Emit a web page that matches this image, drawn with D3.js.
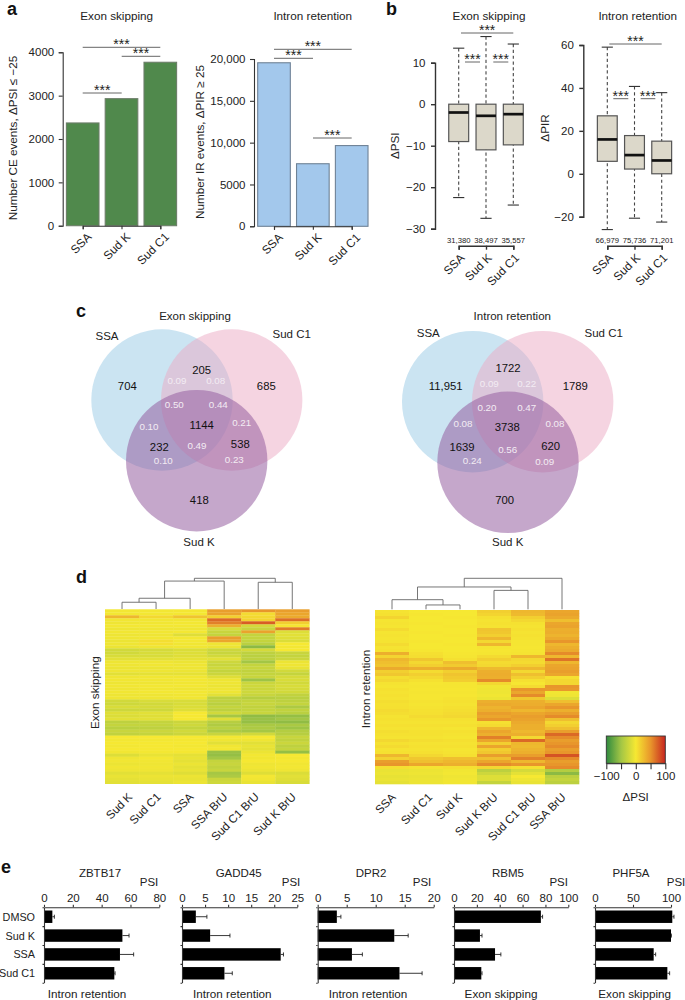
<!DOCTYPE html>
<html>
<head>
<meta charset="utf-8">
<script src="https://cdn.jsdelivr.net/npm/d3@7"></script>
<style>
    body { margin: 0; background: white; }
    svg { display: block; }
    text { font-family: "Liberation Sans", Arial, sans-serif; fill: #222; }
    .axis path, .axis line { stroke: #333; stroke-width: 1.1; fill: none; }
    .axis text { font-family: "Liberation Sans", Arial, sans-serif; fill: #222; }
    .thick path, .thick line { stroke-width: 1.4; }
</style>
</head>
<body>
<div id="canvas"></div>
<script>
"use strict"

// panel a
let barCategories = ["SSA", "Sud K", "Sud C1"]
let exonBarValues = [2370, 2930, 3770]
let intronBarValues = [19550, 7480, 9650]

// panel b
let exonBoxLow = [-22.5, -27.5, -24.3]
let exonBoxQ1 = [-9, -11, -9.8]
let exonBoxMedian = [-2, -2.8, -2.4]
let exonBoxQ3 = [0, 0, 0]
let exonBoxHigh = [13.5, 16.3, 14.5]
let exonBoxCounts = ["31,380", "38,497", "35,557"]

let intronBoxLow = [-26, -20.7, -22.5]
let intronBoxQ1 = [5.8, 2.2, 0]
let intronBoxMedian = [16, 8.7, 6.2]
let intronBoxQ3 = [27, 17.8, 15.2]
let intronBoxHigh = [59, 40.7, 37.8]
let intronBoxCounts = ["66,979", "75,736", "71,201"]

// panel c
let exonVennCounts = ["704", "205", "685", "1144", "232", "538", "418"]
let exonVennRatios = ["0.09", "0.08", "0.50", "0.44", "0.10", "0.21", "0.49", "0.10", "0.23"]
let intronVennCounts = ["11,951", "1722", "1789", "3738", "1639", "620", "700"]
let intronVennRatios = ["0.09", "0.22", "0.20", "0.47", "0.08", "0.08", "0.56", "0.24", "0.09"]

// panel d, one array per column, top row first
let exonHeatLabels = ["Sud K", "Sud C1", "SSA", "SSA BrU", "Sud C1 BrU", "Sud K BrU"]
let exonSudK = [-2, -2, 30, -3, -4, -2, -5, -3, -5, -4, -6, -4, -6, -22, -22, -18, -12, -5, -4, -6, -5, -12, -4, -3, -5, -3, -4, -3, -5, -4, -22, -24, -18, -25, -14, -16, -12, -34, -30, -36, -28, -32, 0, -2, 0, -2, 0, -3, -15, -4, -3, -6, -3, -5, -12, -8, -10, -12]
let exonSudC1 = [-2, -2, 10, -3, -3, -2, -4, -3, -4, -3, 6, 5, -4, -20, -18, -18, -12, -4, -3, -6, -5, -10, -3, -3, -4, -2, -3, -2, -4, -4, -18, -22, -20, -24, -12, -14, -12, -30, -30, -34, -26, -30, 0, -2, 0, 0, 0, -2, -8, -2, -3, -4, -3, -4, -10, -6, -8, -10]
let exonSSA = [-1, -1, 22, -3, -2, -2, -4, -2, -14, -2, -2, -3, -3, -16, -15, -14, -10, -6, -4, -5, -6, -10, -3, -2, -3, -2, -4, -2, -3, -3, -18, -18, -16, -14, 0, 0, 0, -26, -24, -30, -22, -26, 0, -1, 0, -2, 0, -1, -10, -8, -10, -6, -10, -8, -14, -6, -8, -6]
let exonSSABrU = [45, 42, 15, 70, 60, 35, -18, -28, -30, 45, 40, -4, -6, -25, -28, -22, -12, -25, -28, -24, -30, -26, -14, -5, -4, -6, -4, -5, -12, -34, -32, -36, -30, -34, -22, -48, -14, -38, -42, -36, -44, -28, -2, -4, -12, -3, -2, -54, -56, -50, -30, -28, -32, -28, -48, -44, -26, -24]
let exonC1BrU = [50, 8, 10, 12, 75, -20, -28, 42, -30, -30, -30, -36, -60, -20, -34, -36, -34, -50, -30, -28, -32, -30, -28, -52, -26, -24, -26, -24, -28, -38, -30, -28, -32, -30, -28, -58, -54, -56, -46, -44, -48, -22, 0, -4, -12, -8, -10, -6, -2, -3, 0, -4, -3, -6, -14, -2, -3, -8]
let exonKBrU = [45, 40, 38, 68, 15, 2, 62, -15, -12, -14, -16, 0, -2, 0, -28, -30, -26, -6, -4, -8, -22, -30, -20, -18, -22, -18, -20, -22, -32, -36, -34, -30, -44, -32, -36, -56, -50, -58, -46, -52, -40, -38, -28, -32, -26, -34, -30, -56, 0, -2, 0, -3, -2, -4, -16, -12, -14, -18]

let intronHeatLabels = ["SSA", "Sud C1", "Sud K", "Sud K BrU", "Sud C1 BrU", "SSA BrU"]
let intronSSA = [3, 4, 12, 2, 3, 2, 8, 2, 3, 2, 3, 8, 3, 4, 35, 12, 30, 25, 22, 38, 15, 20, 6, 10, 3, 2, 4, 3, 4, 3, 6, 4, 5, 8, 6, 3, 4, 3, 5, 3, 6, 4, 3, 10, 4, 8, 3, 4, 30, 14, 45, 50, 5, -8, -6, -9, -7, -10]
let intronSudC1 = [0, 1, 0, 0, 1, 0, 0, 1, 0, 0, 1, 0, 0, 1, 5, 6, 20, 10, 15, 35, 8, 15, 10, 4, 1, 2, 1, 2, 1, 1, 3, 2, 3, 4, 5, 8, 4, 3, 5, 3, 4, 4, 3, 6, 3, 4, 3, 5, 10, 20, 25, 40, 3, -6, -5, -7, -6, -6]
let intronSudK = [0, 0, 1, 0, 0, 1, 0, 0, 1, 0, 0, 1, 0, 0, 1, 2, 5, 25, 18, 38, 15, 22, 18, 16, 2, 2, 1, 2, 1, 3, 4, 3, 5, 6, 8, 10, 4, 3, 5, 2, 4, 3, 2, 5, 3, 4, 2, 3, 5, 25, 30, 35, 5, -3, -2, -4, -3, -3]
let intronKBrU = [15, 12, 5, 3, 4, 3, 22, 20, 15, 30, 10, 30, 2, 1, 2, 8, 15, 8, 10, 28, 35, 36, 35, 55, 10, -3, -4, -5, -3, -6, 35, 38, 32, 35, 45, 40, 50, 5, 8, 30, 40, 35, 60, 40, 15, 40, 15, 20, 45, 25, 40, 55, 10, -35, -25, -15, -15, -30]
let intronC1BrU = [30, 28, 15, 10, 4, 3, 5, 3, 4, 3, 2, 2, 1, 2, 3, 30, 10, 8, 15, 30, 10, 25, 15, 5, 1, 8, 50, 40, 55, 20, 35, 36, 40, 30, 40, 45, 42, 38, 35, 35, 30, 35, 10, 70, 30, 28, 32, 35, 45, 60, 30, 50, 5, -20, -10, 0, -5, -8]
let intronSSABrU = [40, 42, 38, 25, 40, 42, 35, 36, 32, 38, 50, 30, 35, 38, 55, 30, 65, 30, 40, 42, 45, 40, 5, 10, 10, 50, 48, -3, -4, -15, 25, 40, 50, 35, 45, 55, 25, 10, 15, 25, 45, 70, 55, 45, 50, 55, 45, 50, 80, 55, 45, 50, 55, -40, -60, -35, -30, -35]

// dendrogram merge heights, 100 = top merge
let exonTree = { h: 100, children: [
    { h: 91, children: [
        { h: 35, children: [{ h: 22, children: [{ leaf: 0 }, { leaf: 1 }] }, { leaf: 2 }] },
        { leaf: 3 }
    ] },
    { h: 87, children: [{ leaf: 4 }, { leaf: 5 }] }
] }
let intronTree = { h: 100, children: [
    { h: 72, children: [
        { h: 31, children: [{ leaf: 0 }, { h: 14, children: [{ leaf: 1 }, { leaf: 2 }] }] },
        { h: 61, children: [{ leaf: 3 }, { leaf: 4 }] }
    ] },
    { leaf: 5 }
] }

let colorStops = [-100, -50, 0, 50, 100]
let colorRange = ["#2f8a3f", "#a3c645", "#f6e832", "#e8962b", "#c8261f"]

// panel e
let psiRows = ["DMSO", "Sud K", "SSA", "Sud C1"]
let zbtbValues = [5.8, 54.4, 52.7, 48.8]
let zbtbErrors = [1.4, 4.6, 9.5, 0.5]
let gaddValues = [3, 6.1, 21.4, 9.2]
let gaddErrors = [2.4, 4.3, 0.6, 1.7]
let dprValues = [3.3, 13.2, 5.9, 14.1]
let dprErrors = [0.7, 2.4, 1.8, 3.9]
let rbmValues = [76, 22.7, 35.9, 23.9]
let rbmErrors = [1.5, 1.8, 5.1, 0.6]
let phfValues = [101.7, 100, 77.2, 95.2]
let phfErrors = [2.2, 0.5, 2.6, 3]

let svgWidth = 685
let svgHeight = 1000

let svg = d3.select("#canvas")
    .append("svg")
    .attr("width", svgWidth)
    .attr("height", svgHeight)

function addText(parent, str, x, y, size, anchor) {
    return parent.append("text")
        .attr("x", x)
        .attr("y", y)
        .attr("font-size", size)
        .attr("text-anchor", anchor || "middle")
        .attr("dominant-baseline", "central")
        .text(str)
}

function addVerticalText(str, x, y, size) {
    svg.append("text")
        .attr("transform", `translate(${x},${y}) rotate(-90)`)
        .attr("font-size", size)
        .attr("text-anchor", "middle")
        .attr("dominant-baseline", "central")
        .text(str)
}

function panelLetter(str, x, y) {
    svg.append("text")
        .attr("x", x)
        .attr("y", y)
        .attr("font-size", 18)
        .attr("font-weight", "bold")
        .style("fill", "#111")
        .text(str)
}

function bracket(x1, x2, y) {
    svg.append("line")
        .attr("x1", x1)
        .attr("x2", x2)
        .attr("y1", y)
        .attr("y2", y)
        .attr("stroke", "#555")
        .attr("stroke-width", 0.9)
    svg.append("text")
        .attr("x", (x1 + x2) / 2)
        .attr("y", y + 2)
        .attr("font-size", 14)
        .attr("text-anchor", "middle")
        .text("***")
}

function rotateTicks(axisGroup, size, dx, dy) {
    axisGroup.selectAll("text")
        .attr("x", 0)
        .attr("y", 0)
        .attr("dy", 0)
        .attr("font-size", size)
        .attr("text-anchor", "end")
        .attr("transform", `translate(${dx},${dy}) rotate(-45)`)
}

function drawBars(values, opts) {
    let x = d3.scalePoint()
        .domain(barCategories)
        .range(opts.xRange)
    let y = d3.scaleLinear()
        .domain([0, opts.yMax])
        .range(opts.yRange)
    let barWidth = x.step() * 0.84

    svg.selectAll(null)
        .data(values)
        .join("rect")
        .attr("x", function (value, i) { return x(barCategories[i]) - barWidth / 2 })
        .attr("y", function (value) { return y(value) })
        .attr("width", barWidth)
        .attr("height", function (value) { return y(0) - y(value) })
        .attr("fill", opts.fill)
        .attr("stroke", opts.stroke)
        .attr("stroke-width", 1.1)

    let yAxis = svg.append("g")
        .attr("class", "axis")
        .attr("transform", `translate(${opts.axisX},0)`)
        .call(d3.axisLeft(y).tickValues(opts.ticks).tickSizeOuter(0).tickSize(4).tickFormat(opts.format))
    yAxis.selectAll("text").attr("font-size", 11.5).attr("x", -8.5)

    let xAxis = svg.append("g")
        .attr("class", "axis")
        .attr("transform", `translate(0,${opts.yRange[0]})`)
        .call(d3.axisBottom(x).tickSizeOuter(0).tickSize(3.5))
    rotateTicks(xAxis, 11.8, 9, 12)
}

function drawBoxes(low, q1, median, q3, high, counts, opts) {
    let x = d3.scalePoint()
        .domain(barCategories)
        .range(opts.xRange)
    let y = d3.scaleLinear()
        .domain(opts.yDomain)
        .range(opts.yRange)
    let boxWidth = x.step() * 0.73
    let capWidth = x.step() * 0.41

    let boxes = svg.selectAll(null)
        .data(barCategories)
        .join("g")
        .attr("transform", function (name) { return `translate(${x(name)},0)` })

    boxes.append("line")
        .attr("y1", function (name, i) { return y(high[i]) })
        .attr("y2", function (name, i) { return y(low[i]) })
        .attr("stroke", "#444")
        .attr("stroke-width", 1.1)
        .attr("stroke-dasharray", "3.2,2.6")

    boxes.append("line")
        .attr("x1", -capWidth / 2)
        .attr("x2", capWidth / 2)
        .attr("y1", function (name, i) { return y(high[i]) })
        .attr("y2", function (name, i) { return y(high[i]) })
        .attr("stroke", "#333")
        .attr("stroke-width", 1.1)

    boxes.append("line")
        .attr("x1", -capWidth / 2)
        .attr("x2", capWidth / 2)
        .attr("y1", function (name, i) { return y(low[i]) })
        .attr("y2", function (name, i) { return y(low[i]) })
        .attr("stroke", "#333")
        .attr("stroke-width", 1.1)

    boxes.append("rect")
        .attr("x", -boxWidth / 2)
        .attr("width", boxWidth)
        .attr("y", function (name, i) { return y(q3[i]) })
        .attr("height", function (name, i) { return y(q1[i]) - y(q3[i]) })
        .attr("fill", "#dcd8ca")
        .attr("stroke", "#555")
        .attr("stroke-width", 1.2)

    boxes.append("line")
        .attr("x1", -boxWidth / 2)
        .attr("x2", boxWidth / 2)
        .attr("y1", function (name, i) { return y(median[i]) })
        .attr("y2", function (name, i) { return y(median[i]) })
        .attr("stroke", "#111")
        .attr("stroke-width", 2.7)

    boxes.append("text")
        .attr("y", opts.countY)
        .attr("font-size", 7.7)
        .attr("text-anchor", "middle")
        .attr("dominant-baseline", "central")
        .text(function (name, i) { return counts[i] })

    let yAxis = svg.append("g")
        .attr("class", "axis thick")
        .attr("transform", `translate(${opts.axisX},0)`)
        .call(d3.axisLeft(y).tickValues(opts.ticks).tickSizeOuter(0).tickSize(4))
    yAxis.selectAll("text").attr("font-size", 11.5).attr("x", -9.5)

    let xAxis = svg.append("g")
        .attr("class", "axis thick")
        .attr("transform", `translate(0,${opts.bottomY})`)
        .call(d3.axisBottom(x).tickSizeOuter(0).tickSize(4))
    rotateTicks(xAxis, 11.8, 6, 13)
}

function drawVenn(counts, ratios, opts) {
    let r = 70.7
    let circles = [
        { c: opts.ssa, fill: "#cbe4f2", opacity: 1 },
        { c: opts.c1, fill: "rgb(235,170,195)", opacity: 0.5 },
        { c: opts.k, fill: "rgb(150,95,160)", opacity: 0.55 }
    ]
    svg.selectAll(null)
        .data(circles)
        .join("circle")
        .attr("cx", function (d) { return d.c[0] })
        .attr("cy", function (d) { return d.c[1] })
        .attr("r", r)
        .attr("fill", function (d) { return d.fill })
        .attr("fill-opacity", function (d) { return d.opacity })

    counts.forEach(function (str, i) {
        addText(svg, str, opts.countPos[i][0], opts.countPos[i][1], 11.3).style("fill", "#111")
    })
    ratios.forEach(function (str, i) {
        addText(svg, str, opts.ratioPos[i][0], opts.ratioPos[i][1], 9.8).style("fill", "#f3ecf3")
    })
    opts.names.forEach(function (n) {
        addText(svg, n[0], n[1], n[2], 11.5)
    })
}

function treeLayout(node, x, columns) {
    if (node.leaf !== undefined) {
        node.x = x(columns[node.leaf])
        node.h = 0
        return node
    }
    node.children.forEach(function (child) { treeLayout(child, x, columns) })
    node.x = (node.children[0].x + node.children[1].x) / 2
    return node
}

function treeSegments(node, out) {
    if (!node.children) return out
    let a = node.children[0]
    let b = node.children[1]
    out.push([[a.x, a.h], [a.x, node.h], [b.x, node.h], [b.x, b.h]])
    treeSegments(a, out)
    treeSegments(b, out)
    return out
}

function drawHeatmap(columns, labels, tree, opts) {
    let x = d3.scaleBand()
        .domain(labels)
        .range(opts.xRange)
    let rowCount = columns[0].length
    let y = d3.scaleBand()
        .domain(d3.range(rowCount))
        .range(opts.yRange)
    let color = d3.scaleLinear()
        .domain(colorStops)
        .range(colorRange)

    let cols = svg.selectAll(null)
        .data(columns)
        .join("g")
        .attr("transform", function (col, i) { return `translate(${x(labels[i])},0)` })

    cols.selectAll("rect")
        .data(function (col) { return col })
        .join("rect")
        .attr("y", function (value, i) { return y(i) })
        .attr("width", x.bandwidth() + 0.3)
        .attr("height", y.bandwidth() + 0.3)
        .attr("fill", function (value) { return color(value) })

    let centers = d3.scalePoint()
        .domain(labels)
        .range([opts.xRange[0] + x.bandwidth() / 2, opts.xRange[1] - x.bandwidth() / 2])
    let heightScale = d3.scaleLinear()
        .domain([0, 100])
        .range(opts.treeRange)
    treeLayout(tree, centers, labels)
    let line = d3.line()
        .x(function (p) { return p[0] })
        .y(function (p) { return heightScale(p[1]) })
    svg.selectAll(null)
        .data(treeSegments(tree, []))
        .join("path")
        .attr("d", line)
        .attr("fill", "none")
        .attr("stroke", "#666")
        .attr("stroke-width", 0.9)

    svg.selectAll(null)
        .data(labels)
        .join("text")
        .attr("font-size", 11.6)
        .attr("text-anchor", "end")
        .attr("transform", function (name, i) {
            return `translate(${centers(name) + opts.labelShift[i]},${opts.yRange[1] + 14}) rotate(-45)`
        })
        .text(function (name) { return name })
}

function drawLegend() {
    let color = d3.scaleLinear()
        .domain(colorStops)
        .range(colorRange)
    let x = d3.scaleLinear()
        .domain([-100, 100])
        .range([606.3, 665.3])

    let gradient = svg.append("defs")
        .append("linearGradient")
        .attr("id", "psiGradient")
    d3.range(-100, 101, 10).forEach(function (value) {
        gradient.append("stop")
            .attr("offset", `${(value + 100) / 2}%`)
            .attr("stop-color", color(value))
    })

    svg.append("rect")
        .attr("x", x(-100))
        .attr("y", 736)
        .attr("width", x(100) - x(-100))
        .attr("height", 27.3)
        .attr("fill", "url(#psiGradient)")
        .attr("stroke", "#333")
        .attr("stroke-width", 0.9)

    let axis = svg.append("g")
        .attr("class", "axis")
        .attr("transform", "translate(0,763.3)")
        .call(d3.axisBottom(x).tickValues(colorStops).tickSize(6).tickSizeOuter(0)
            .tickFormat(function (d) { return Math.abs(d) == 50 ? "" : d3.format("d")(d) }))
    axis.selectAll("text").attr("font-size", 11.5).attr("y", 9)
    addText(svg, "ΔPSI", 635.7, 796.7, 11.5)
}

function drawPsi(values, errors, opts) {
    let x = d3.scaleLinear()
        .domain([0, opts.max])
        .range(opts.xRange)
    let y = d3.scaleBand()
        .domain(psiRows)
        .range([907.3, 982.7])
        .paddingInner(0.34)
        .paddingOuter(0.17)
    let edges = d3.scaleLinear()
        .domain([0, psiRows.length])
        .range([907.3, 982.7])

    svg.selectAll(null)
        .data(values)
        .join("rect")
        .attr("x", x(0))
        .attr("y", function (value, i) { return y(psiRows[i]) })
        .attr("width", function (value) { return x(value) - x(0) })
        .attr("height", y.bandwidth())
        .attr("fill", "#000")

    let errs = svg.selectAll(null)
        .data(values)
        .join("g")
        .attr("transform", function (value, i) { return `translate(0,${y(psiRows[i]) + y.bandwidth() / 2})` })
    errs.append("line")
        .attr("x1", function (value) { return x(value) })
        .attr("x2", function (value, i) { return x(value + errors[i]) })
        .attr("stroke", "#222")
        .attr("stroke-width", 0.9)
    errs.append("line")
        .attr("x1", function (value, i) { return x(value + errors[i]) })
        .attr("x2", function (value, i) { return x(value + errors[i]) })
        .attr("y1", -2)
        .attr("y2", 2)
        .attr("stroke", "#222")
        .attr("stroke-width", 0.9)

    let top = svg.append("g")
        .attr("class", "axis")
        .attr("transform", "translate(0,907.3)")
        .call(d3.axisTop(x).tickValues(opts.ticks).tickSize(2.5).tickSizeOuter(0))
    top.selectAll("text").attr("font-size", 11.5).attr("y", -5)

    svg.append("g")
        .attr("class", "axis")
        .attr("transform", `translate(${x(0)},0)`)
        .call(d3.axisLeft(edges).tickValues(d3.range(psiRows.length + 1)).tickSize(1.5).tickSizeOuter(0).tickFormat(""))

    addText(svg, opts.title, opts.titleX, 872.7, 11.5)
    addText(svg, "PSI", opts.psiX, 882, 11.5)
    addText(svg, opts.footer, opts.footerX, 993, 11.7)
}

// panel a
addText(svg, "Exon skipping", 116.7, 15, 11.7)
addText(svg, "Intron retention", 312.7, 15, 11.7)
drawBars(exonBarValues, {
    xRange: [82.7, 160.3], yRange: [225.7, 52.3], yMax: 4000, axisX: 62.7,
    ticks: [0, 1000, 2000, 3000, 4000], format: d3.format("d"),
    fill: "#50894c", stroke: "#6b7d68"
})
drawBars(intronBarValues, {
    xRange: [274, 351.7], yRange: [226.3, 59], yMax: 20000, axisX: 254,
    ticks: [0, 5000, 10000, 15000, 20000],
    format: function (d) { return d >= 10000 ? d3.format(",")(d) : d3.format("d")(d) },
    fill: "#a3c8ec", stroke: "#6f8296"
})
addVerticalText("Number CE events, ΔPSI ≤ −25", 12.3, 138, 11.7)
addVerticalText("Number IR events, ΔPIR ≥ 25", 199, 142, 11.7)
bracket(82.7, 160.3, 47.3)
bracket(121.7, 160.3, 56.3)
bracket(82.7, 121.7, 93)
bracket(274, 351.7, 49.3)
bracket(274, 313, 58.3)
bracket(313, 351.7, 138)

// panel b
addText(svg, "Exon skipping", 489, 15, 11.7)
addText(svg, "Intron retention", 637.7, 15, 11.7)
drawBoxes(exonBoxLow, exonBoxQ1, exonBoxMedian, exonBoxQ3, exonBoxHigh, exonBoxCounts, {
    xRange: [458.7, 513.3], yDomain: [-30, 10], yRange: [228.7, 62.7], axisX: 435,
    ticks: [-30, -20, -10, 0, 10], countY: 240, bottomY: 245.7
})
drawBoxes(intronBoxLow, intronBoxQ1, intronBoxMedian, intronBoxQ3, intronBoxHigh, intronBoxCounts, {
    xRange: [607.3, 661.7], yDomain: [-20, 60], yRange: [216.7, 45], axisX: 583.3,
    ticks: [-20, 0, 20, 40, 60], countY: 240, bottomY: 245.7
})
addVerticalText("ΔPSI", 394.3, 145.7, 11.7)
addVerticalText("ΔPIR", 544, 128, 11.7)
bracket(461, 513.3, 33)
bracket(465, 480, 62)
bracket(493.3, 508.3, 62)
bracket(609.3, 661.7, 44)
bracket(613.3, 628.3, 98.7)
bracket(640.7, 655.3, 98.7)

// panel c
drawVenn(exonVennCounts, exonVennRatios, {
    ssa: [162, 400], c1: [231.7, 400], k: [196.7, 460.7],
    countPos: [[127.3, 386], [201.7, 369.7], [266.3, 385.7], [201.7, 425.3], [159.3, 446.7], [240.3, 444], [199.3, 500]],
    ratioPos: [[177, 380], [215.7, 380], [174.3, 404.3], [218.3, 404.3], [149, 426], [241.7, 422.3], [197, 445.3], [163.3, 460.3], [234.3, 459.7]],
    names: [["Exon skipping", 195, 316], ["SSA", 107, 335.7], ["Sud C1", 291.7, 334], ["Sud K", 199, 541.7]]
})
drawVenn(intronVennCounts, intronVennRatios, {
    ssa: [472.7, 401.7], c1: [542.7, 401.7], k: [508, 462.3],
    countPos: [[445.7, 386], [508, 367.7], [575.3, 386], [507.3, 426.7], [462, 447], [550.7, 446], [504.7, 500.3]],
    ratioPos: [[489.3, 383.7], [526.7, 383.7], [487, 407.3], [526.7, 407.3], [463, 423.7], [555, 423.7], [507.7, 449.7], [472.3, 460], [544.7, 461.7]],
    names: [["Intron retention", 512.3, 316], ["SSA", 428.3, 333.3], ["Sud C1", 603.7, 333.3], ["Sud K", 507.7, 541.7]]
})

// panel d
drawHeatmap([exonSudK, exonSudC1, exonSSA, exonSSABrU, exonC1BrU, exonKBrU], exonHeatLabels, exonTree, {
    xRange: [105, 309.3], yRange: [609.3, 783.7], treeRange: [609, 578.3],
    labelShift: [11, 5.5, 4, 4, 1.5, 4.5]
})
drawHeatmap([intronSSA, intronSudC1, intronSudK, intronKBrU, intronC1BrU, intronSSABrU], intronHeatLabels, intronTree, {
    xRange: [375, 579], yRange: [610, 784], treeRange: [609.3, 578.3],
    labelShift: [4.5, 7, 3, 4.5, 8.5, 4.5]
})
addVerticalText("Exon skipping", 94, 692.7, 11.7)
addVerticalText("Intron retention", 365, 689, 11.7)
drawLegend()

// panel e
drawPsi(zbtbValues, zbtbErrors, {
    max: 80, xRange: [44, 159.3], ticks: [0, 20, 40, 60, 80],
    title: "ZBTB17", titleX: 100, psiX: 149, footer: "Intron retention", footerX: 87
})
drawPsi(gaddValues, gaddErrors, {
    max: 25, xRange: [182, 297.3], ticks: [0, 5, 10, 15, 20, 25],
    title: "GADD45", titleX: 238.7, psiX: 291, footer: "Intron retention", footerX: 232.3
})
drawPsi(dprValues, dprErrors, {
    max: 20, xRange: [317.7, 433.7], ticks: [0, 5, 10, 15, 20],
    title: "DPR2", titleX: 371, psiX: 422, footer: "Intron retention", footerX: 368
})
drawPsi(rbmValues, rbmErrors, {
    max: 100, xRange: [454, 568.3], ticks: [0, 20, 40, 60, 80, 100],
    title: "RBM5", titleX: 508, psiX: 558.7, footer: "Exon skipping", footerX: 501
})
drawPsi(phfValues, phfErrors, {
    max: 100, xRange: [595, 671], ticks: [0, 50, 100],
    title: "PHF5A", titleX: 631, psiX: 676, footer: "Exon skipping", footerX: 634.7
})
let rowLabelY = d3.scaleBand().domain(psiRows).range([907.3, 982.7]).paddingInner(0.34).paddingOuter(0.17)
psiRows.forEach(function (name) {
    addText(svg, name, 35, rowLabelY(name) + rowLabelY.bandwidth() / 2, 10.8, "end")
})

panelLetter("a", 7, 14.5)
panelLetter("b", 386, 14.5)
panelLetter("c", 76, 317)
panelLetter("d", 76, 583)
panelLetter("e", 1, 873)
</script>
</body>
</html>
